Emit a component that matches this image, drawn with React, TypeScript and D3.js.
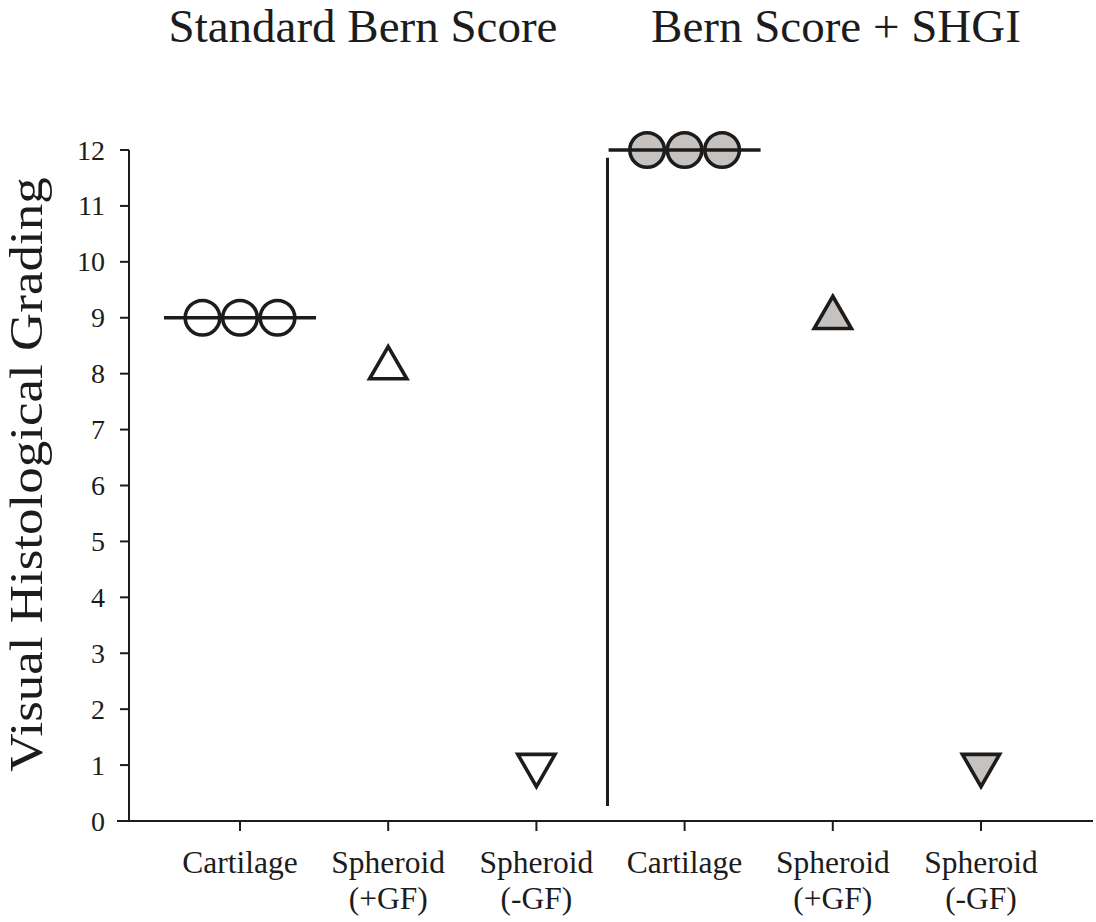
import React from "react";
import * as d3 from "d3";

const panelTitles = ["Standard Bern Score", "Bern Score + SHGI"];
const categoryLines = [["Cartilage"], ["Spheroid", "(+GF)"], ["Spheroid", "(-GF)"]];
const categoryKeys = ["std-cart", "std-pgf", "std-mgf", "shgi-cart", "shgi-pgf", "shgi-mgf"];
const standardValues = [[9, 9, 9], [8.1], [1]];
const shgiValues = [[12, 12, 12], [9], [1]];
const yTicks = [0, 1, 2, 3, 4, 5, 6, 7, 8, 9, 10, 11, 12];
const yLabel = "Visual Histological Grading";

const W = 1096;
const H = 922;
const FONT = "'Liberation Serif', 'Times New Roman', serif";
const INK = "#1c1c1c";
const GRAY = "#c6c2bf";

export default function App() {
  const y = d3.scaleLinear().domain([0, 12]).range([821, 150]);
  const x = d3.scalePoint<string>().domain(categoryKeys).range([240, 981]);
  const axisX = 129;

  const circleR = 17.3;
  const triUp = d3.symbol().type(d3.symbolTriangle).size(600)()!;
  const circleSpacing = 37.5;

  const panels = [
    { values: standardValues, keys: categoryKeys.slice(0, 3), fill: "none" },
    { values: shgiValues, keys: categoryKeys.slice(3), fill: GRAY },
  ];

  const sepX = ((x(categoryKeys[2]) as number) + (x(categoryKeys[3]) as number)) / 2 - 3;

  return (
    <svg
      width={W}
      height={H}
      style={{ position: "absolute", left: 0, top: 0, background: "#fff" }}
      fontFamily={FONT}
    >
      {/* Titles */}
      <text x={363} y={42} fontSize={47} textAnchor="middle" fill={INK}>
        {panelTitles[0]}
      </text>
      <text x={836} y={42} fontSize={47} textAnchor="middle" fill={INK}>
        {panelTitles[1]}
      </text>

      {/* Y axis title */}
      <text
        transform={`translate(42, ${y(6) - 11}) rotate(-90) scale(1, 0.88)`}
        fontSize={53}
        textAnchor="middle"
        fill={INK}
      >
        {yLabel}
      </text>

      {/* Y axis */}
      <line x1={axisX} x2={axisX} y1={y(0)} y2={y(12)} stroke={INK} strokeWidth={2} />
      {yTicks.map((t) => (
        <g key={t}>
          <line x1={axisX - 9} x2={axisX} y1={y(t)} y2={y(t)} stroke={INK} strokeWidth={2} />
          <text
            x={axisX - 24}
            y={y(t)}
            dy="0.34em"
            fontSize={28}
            textAnchor="end"
            fill={INK}
          >
            {t}
          </text>
        </g>
      ))}

      {/* X axis */}
      <line x1={117} x2={1093} y1={y(0)} y2={y(0)} stroke={INK} strokeWidth={2} />
      {categoryKeys.map((k, i) => {
        const cx = x(k) as number;
        const lines = categoryLines[i % 3];
        return (
          <g key={k}>
            <line x1={cx} x2={cx} y1={y(0)} y2={y(0) + 10} stroke={INK} strokeWidth={2} />
            {lines.map((ln, j) => (
              <text
                key={j}
                x={cx}
                y={873 + j * 36}
                fontSize={31.5}
                textAnchor="middle"
                fill={INK}
              >
                {ln}
              </text>
            ))}
          </g>
        );
      })}

      {/* Separator */}
      <line
        x1={sepX}
        x2={sepX}
        y1={y(11.86)}
        y2={y(0.27)}
        stroke={INK}
        strokeWidth={3}
      />

      {/* Data */}
      {panels.map((p, pi) => (
        <g key={pi}>
          {p.values.map((vals, ci) => {
            const cx = x(p.keys[ci]) as number;
            if (ci === 0) {
              const mean = d3.mean(vals) as number;
              return (
                <g key={ci}>
                  {vals.map((v, vi) => (
                    <circle
                      key={vi}
                      cx={cx + (vi - (vals.length - 1) / 2) * circleSpacing}
                      cy={y(v)}
                      r={circleR}
                      fill={p.fill}
                      stroke={INK}
                      strokeWidth={3.6}
                    />
                  ))}
                  <line
                    x1={cx - 76}
                    x2={cx + 76}
                    y1={y(mean)}
                    y2={y(mean)}
                    stroke={INK}
                    strokeWidth={3.5}
                  />
                </g>
              );
            }
            const rot = ci === 2 ? 180 : 0;
            return (
              <g key={ci}>
                {vals.map((v, vi) => (
                  <path
                    key={vi}
                    d={triUp}
                    transform={`translate(${cx}, ${y(v)}) rotate(${rot})`}
                    fill={p.fill === "none" ? "#ffffff" : p.fill}
                    stroke={INK}
                    strokeWidth={3.6}
                  />
                ))}
              </g>
            );
          })}
        </g>
      ))}
    </svg>
  );
}
